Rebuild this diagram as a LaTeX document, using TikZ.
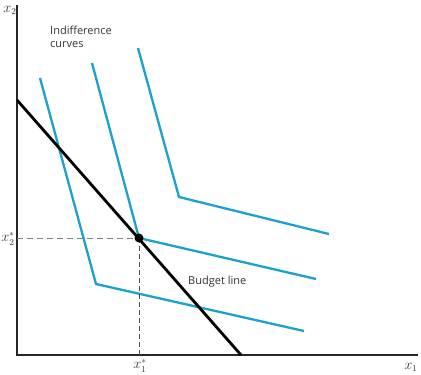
\documentclass[tikz,border=0pt]{standalone}
\usepackage{fontspec}
\setsansfont{Open Sans}
\begin{document}
\begin{tikzpicture}[x=1pt,y=-1pt,
  ic/.style={draw=icblue,line width=2.3pt,line join=miter},
  axis/.style={draw=black!85,line width=2.4pt},
  lbl/.style={font=\sffamily\fontsize{11}{12.5}\selectfont,text=black!80,inner sep=0pt},
  mlbl/.style={inner sep=0pt,text=black!80,font=\fontsize{13.5}{14}\selectfont},
  guide/.style={draw=black!50,dashed,line width=0.8pt,dash pattern=on 6pt off 4pt}]
\definecolor{icblue}{RGB}{28,160,204}
\useasboundingbox (0,0) rectangle (421,375);
% axes
\coordinate (O) at (17,355);
\coordinate (ytop) at (17,5);
\coordinate (xend) at (418,355);
\draw[axis] (ytop) -- (O) -- (xend);
% indifference curves
\coordinate (a1) at (40,78); \coordinate (a2) at (96,284); \coordinate (a3) at (304,331);
\coordinate (b1) at (92,63); \coordinate (b2) at (139,238); \coordinate (b3) at (316,279);
\coordinate (c1) at (138,48); \coordinate (c2) at (179,197); \coordinate (c3) at (329,234);
\draw[ic] (a1) -- (a2) -- (a3);
\draw[ic] (b1) -- (b2) -- (b3);
\draw[ic] (c1) -- (c2) -- (c3);
% guides
\coordinate (gx) at (17,238);
\coordinate (gy) at (139,355);
\draw[guide] (gx) -- (b2);
\draw[guide,dash pattern=on 5pt off 3pt,draw=black!70] (b2) -- (gy);
% budget line
\coordinate (bl1) at (17,100); \coordinate (bl2) at (241,355);
\draw[line width=2.8pt] (bl1) -- (bl2);
\node[circle,fill=black,inner sep=0pt,minimum size=9pt] (opt) at (b2) {};
% labels
\node[mlbl] (x2) at (10,10) {$x_2$};
\node[mlbl] (x1) at (411,367) {$x_1$};
\node[mlbl] (x2s) at (8,239) {$x_2^*$};
\node[mlbl] (x1s) at (140,366) {$x_1^*$};
\node[lbl,anchor=north west,align=left] (ic) at (50,26) {Indifference\\curves};
\node[lbl,anchor=west] (bl) at (188,282) {Budget line};
\end{tikzpicture}
\end{document}
